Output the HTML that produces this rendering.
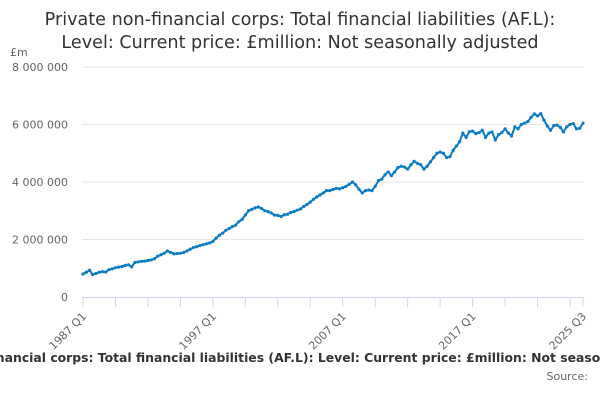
<!DOCTYPE html>
<html><head><meta charset="utf-8"><style>
body{margin:0;width:600px;height:400px;overflow:hidden;background:#fff;font-family:"Liberation Sans","DejaVu Sans",sans-serif;}
svg{display:block}
</style></head><body>
<svg id="chart" width="600" height="400" font-family="DejaVu Sans, Liberation Sans, sans-serif">
<text x="300" y="25" text-anchor="middle" font-size="17.6" fill="#333">Private non-financial corps: Total financial liabilities (AF.L):</text>
<text x="300" y="48" text-anchor="middle" font-size="17.6" fill="#333">Level: Current price: £million: Not seasonally adjusted</text>
<text x="10" y="56" font-size="11" fill="#666">£m</text>
<g id="grid"></g><g id="xaxis"></g><g id="series"></g>
<text x="300" y="362" text-anchor="middle" font-size="12.4" font-weight="bold" fill="#333">Private non-financial corps: Total financial liabilities (AF.L): Level: Current price: £million: Not seasonally adjusted</text>
<text x="588" y="380" text-anchor="end" font-size="11" fill="#666">Source:</text>
</svg>
<script>
const yTicks=[0,2000000,4000000,6000000,8000000];
const yTickLabels=["0","2 000 000","4 000 000","6 000 000","8 000 000"];
const xLabelIdx=[0,40,80,120,154];
const xLabels=["1987 Q1","1997 Q1","2007 Q1","2017 Q1","2025 Q3"];
const values=[0.80,0.86,0.93,0.78, 0.82,0.86,0.88,0.87, 0.95,0.98,1.02,1.04, 1.06,1.10,1.12,1.05,
1.20,1.22,1.24,1.25, 1.27,1.29,1.33,1.42, 1.47,1.52,1.60,1.55, 1.50,1.51,1.52,1.55,
1.60,1.66,1.72,1.75, 1.79,1.82,1.85,1.88, 1.93,2.05,2.15,2.22, 2.32,2.38,2.45,2.50,
2.62,2.70,2.85,3.00, 3.05,3.10,3.13,3.08, 3.00,2.97,2.92,2.85, 2.84,2.80,2.86,2.88,
2.94,2.97,3.02,3.06, 3.15,3.22,3.30,3.40, 3.48,3.55,3.62,3.70, 3.70,3.74,3.78,3.76,
3.80,3.85,3.92,4.00, 3.90,3.75,3.62,3.70, 3.72,3.70,3.85,4.05, 4.10,4.25,4.35,4.22,
4.35,4.50,4.55,4.52, 4.45,4.60,4.72,4.65, 4.60,4.45,4.55,4.70, 4.85,5.00,5.04,5.00,
4.85,4.88,5.10,5.25, 5.40,5.70,5.55,5.75, 5.77,5.68,5.72,5.80, 5.55,5.70,5.74,5.46,
5.65,5.72,5.85,5.70, 5.60,5.92,5.85,6.00, 6.05,6.10,6.25,6.37, 6.30,6.38,6.15,5.95,
5.80,5.96,5.98,5.90, 5.74,5.92,6.00,6.03, 5.85,5.87,6.05].map(v=>v*1000000);
const NS="http://www.w3.org/2000/svg";
const X0=83,X1=583,Y0=297,Y1=67;
const xs=i=>X0+(X1-X0)*i/(values.length-1);
const ys=v=>Y0-(Y0-Y1)*v/8000000;
function mk(tag,attrs,parent){const e=document.createElementNS(NS,tag);for(const k in attrs)e.setAttribute(k,attrs[k]);parent.appendChild(e);return e;}
const grid=document.getElementById('grid');
yTicks.forEach((t,k)=>{
  if(t>0){const l=mk('line',{x1:X0-1,x2:X1+1,y1:ys(t),y2:ys(t),stroke:'#e6e6e6','stroke-width':1},grid);
  
  }
  const tx=mk('text',{x:68,y:ys(t)+4,'text-anchor':'end','font-size':11,fill:'#666'},grid);
  tx.textContent=yTickLabels[k];
  
  
});
const xa=document.getElementById('xaxis');
const axl=mk('line',{x1:X0-1,x2:X1+1,y1:Y0+0.5,y2:Y0+0.5,stroke:'#ccd6eb','stroke-width':1},xa);


for(let i=0;i<values.length;i+=10){
  const t=mk('line',{x1:xs(i),x2:xs(i),y1:Y0,y2:Y0+10,stroke:'#ccd6eb','stroke-width':1},xa);
  
  
}
const lt=mk('line',{x1:xs(154),x2:xs(154),y1:Y0,y2:Y0+10,stroke:'#ccd6eb','stroke-width':1},xa);


xLabelIdx.forEach((i,k)=>{
  const x=xs(i)+4,y=Y0+20;
  const tx=mk('text',{x:x,y:y,'text-anchor':'end','font-size':11,fill:'#666',transform:`rotate(-45 ${x} ${y})`},xa);
  tx.textContent=xLabels[k];
  
  
});
const sg=document.getElementById('series');
const d=values.map((v,i)=>(i?'L':'M')+xs(i).toFixed(1)+' '+ys(v).toFixed(1)).join(' ');
const p=mk('path',{d:d,fill:'none',stroke:'#0b7bc4','stroke-width':2,'stroke-linejoin':'round'},sg);


values.forEach((v,i)=>{
  const c=mk('circle',{cx:xs(i),cy:ys(v),r:1.6,fill:'#0b7bc4'},sg);
  
  
});
</script>
</body></html>
